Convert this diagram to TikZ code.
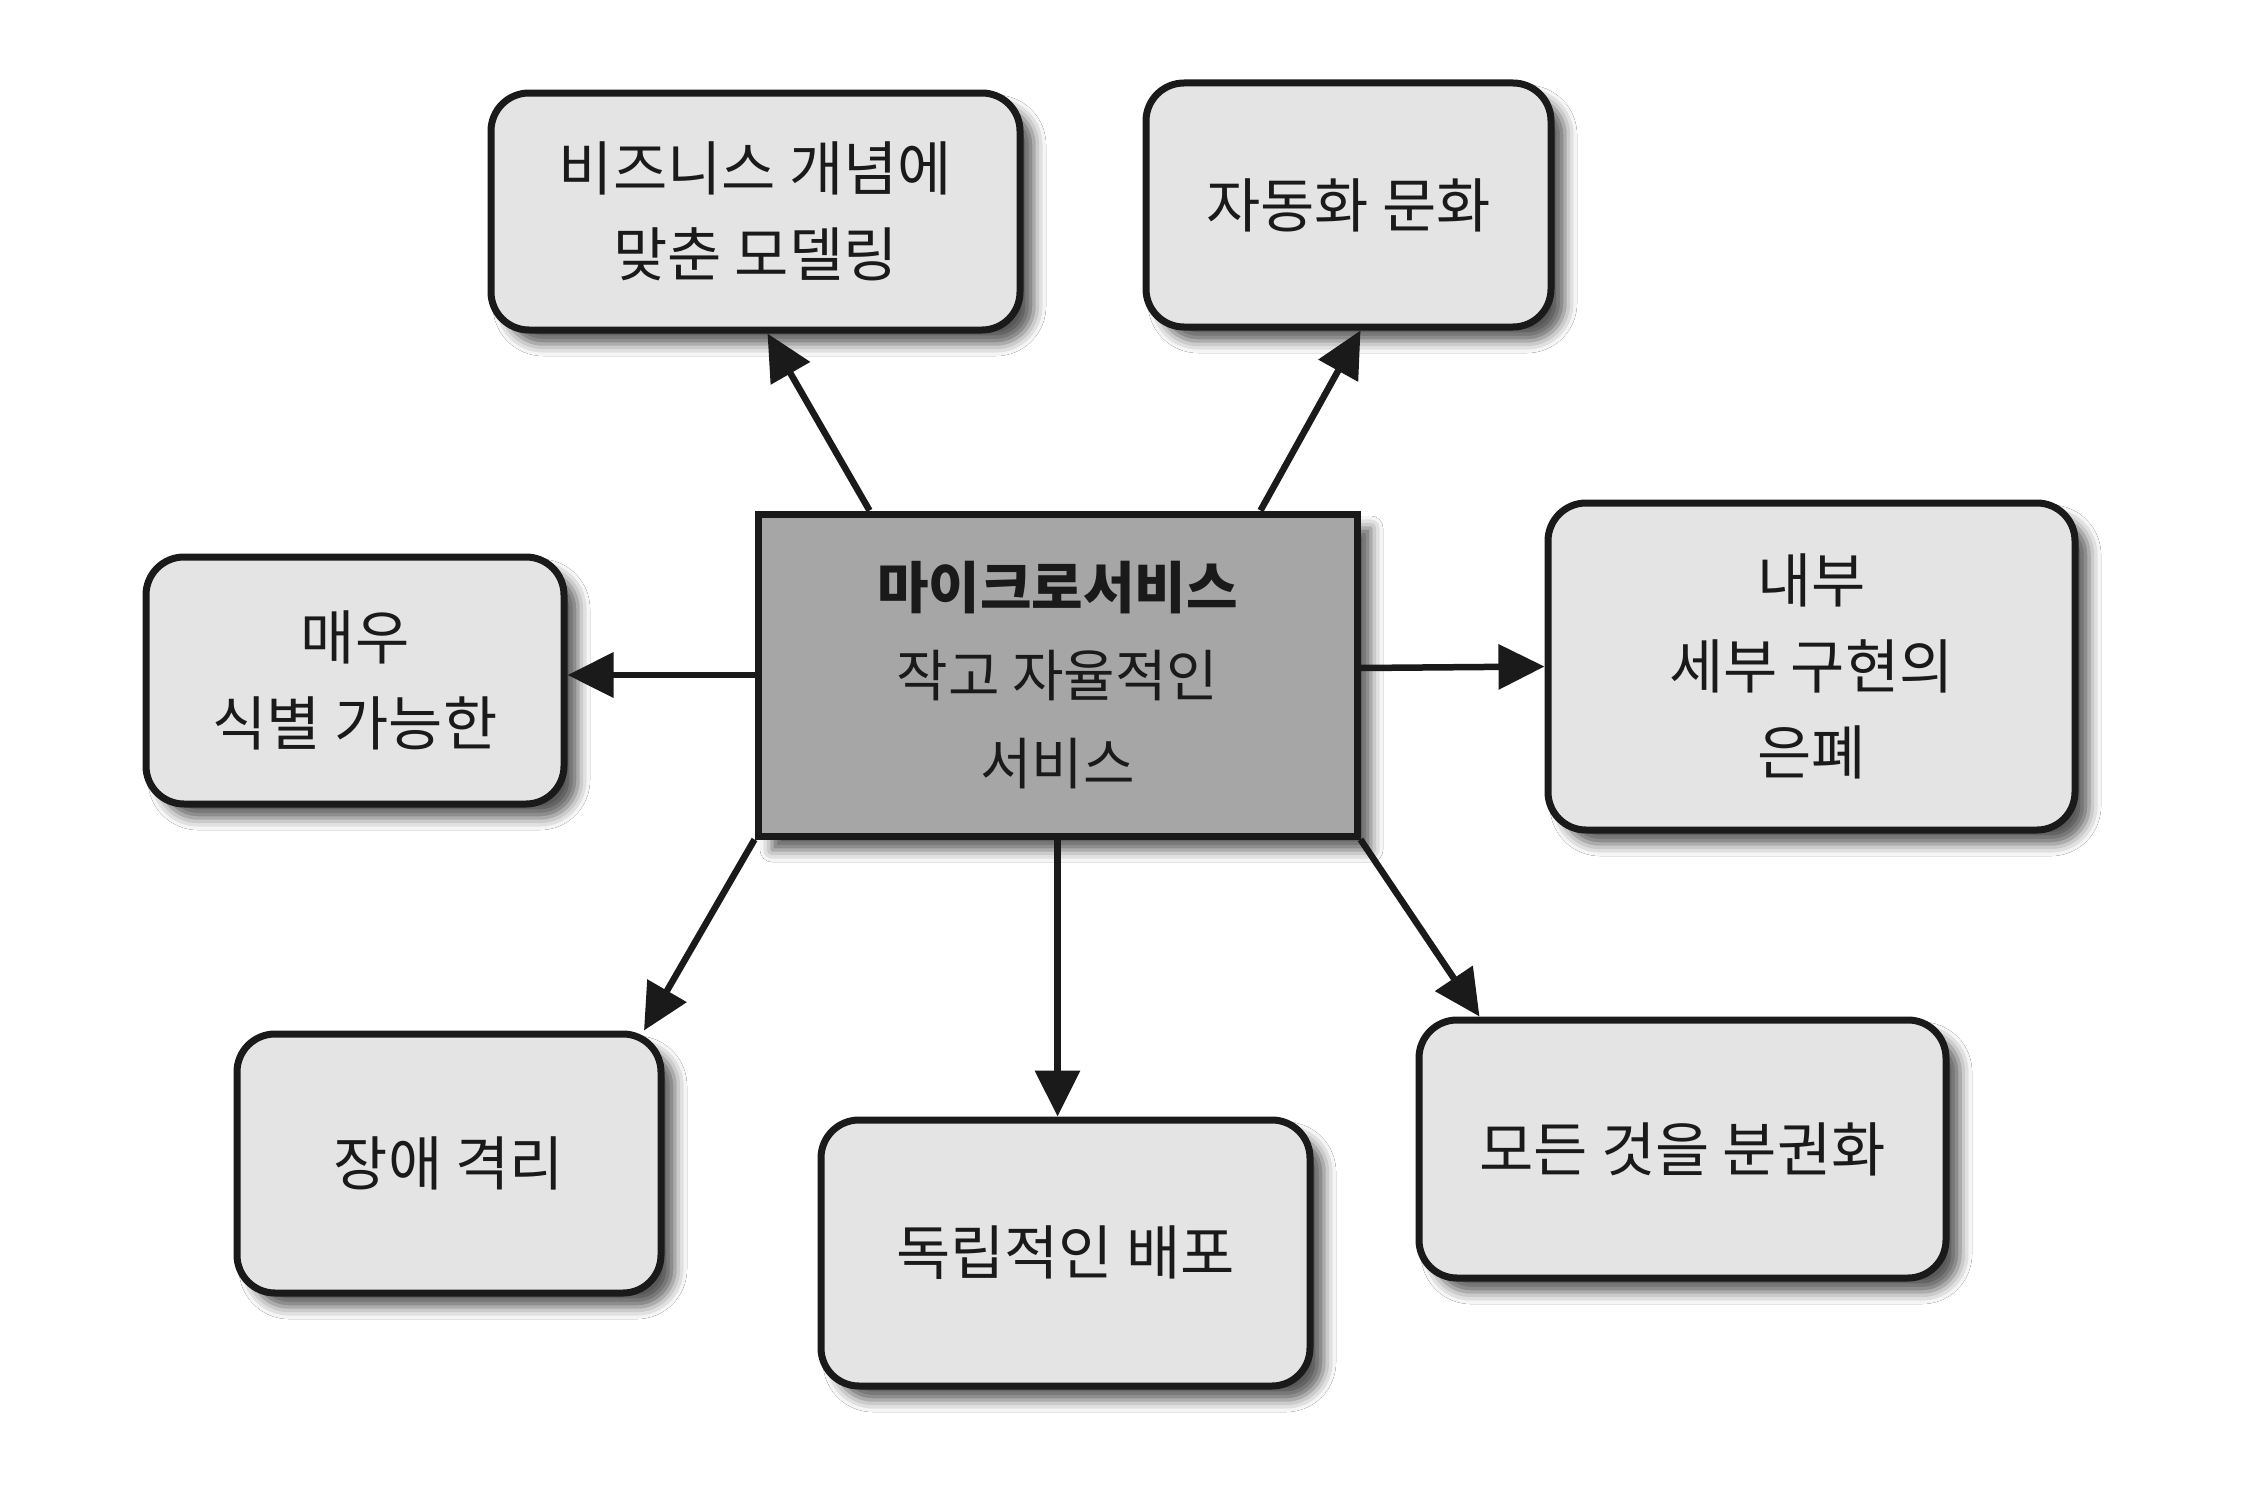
\documentclass[tikz,border=0pt]{standalone}
\usepackage{fontspec}
\setmainfont{Noto Sans CJK KR}
\usetikzlibrary{arrows.meta,shadows.blur}
\definecolor{boxfill}{HTML}{E4E4E4}
\definecolor{corefill}{HTML}{A6A6A6}
\definecolor{ink}{HTML}{1A1A1A}
\begin{document}
\begin{tikzpicture}[x=1pt,y=-1pt,
  every node/.style={font=\fontsize{59}{86}\selectfont, text=ink, align=center, inner sep=0pt},
  idea/.style={draw=ink, line width=7pt, fill=boxfill, rounded corners=38pt,
    blur shadow={shadow xshift=14pt, shadow yshift=-14pt, shadow blur radius=12pt, shadow opacity=65}},
  core/.style={draw=ink, line width=7pt, fill=corefill,
    blur shadow={shadow xshift=14pt, shadow yshift=-14pt, shadow blur radius=12pt, shadow opacity=65}},
  arr/.style={draw=ink, line width=6.5pt, -{Triangle[length=46pt,width=44pt]}}
]
\useasboundingbox (0,0) rectangle (2252,1512);
\fill[white] (0,0) rectangle (2252,1512);

\node[core, minimum width=599pt, minimum height=322pt,
  font=\fontsize{56}{88}\selectfont] (c) at (1057.5,675)
  {\textbf{마이크로서비스}\\작고 자율적인\\서비스};

\node[idea, minimum width=529pt, minimum height=237pt] (tl) at (755.5,211.5)
  {비즈니스 개념에\\맞춘 모델링};
\node[idea, minimum width=405pt, minimum height=244pt] (tr) at (1348.5,205)
  {자동화 문화};
\node[idea, minimum width=418pt, minimum height=247pt] (l) at (355,680.5)
  {매우\\식별 가능한};
\node[idea, minimum width=527pt, minimum height=327pt] (r) at (1811.5,666.5)
  {내부\\세부 구현의\\은폐};
\node[idea, minimum width=424pt, minimum height=259pt] (bl) at (449,1163.5)
  {장애 격리};
\node[idea, minimum width=489pt, minimum height=266pt] (bc) at (1065.5,1253)
  {독립적인 배포};
\node[idea, minimum width=527pt, minimum height=258pt] (br) at (1682.5,1149)
  {모든 것을 분권화};

\draw[arr] ([xshift=-188pt]c.north) -- ([xshift=12pt]tl.south);
\draw[arr] ([xshift=203pt]c.north) -- ([xshift=12pt]tr.south);
\draw[arr] (c.west) -- (c.west -| l.east);
\draw[arr] ([yshift=7pt]c.east) -- (r.west);
\draw[arr] (c.south west) -- ([xshift=195pt]bl.north);
\draw[arr] (c.south) -- (c.south |- bc.north);
\draw[arr] (c.south east) -- ([xshift=-203pt]br.north);
\end{tikzpicture}
\end{document}
